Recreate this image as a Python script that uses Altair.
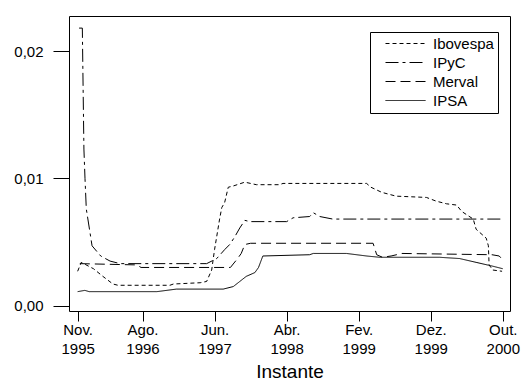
import altair as alt
import pandas as pd

# time index in months, 0 = Nov. 1995
ibov_t = [0.0, 0.5, 2.2, 3.5, 4.9, 5.6, 12.8, 13.3, 17.0, 17.9, 18.6, 19.0, 19.7, 20.0, 20.4, 20.9,
          21.6, 23.2, 24.8, 28.0, 28.5, 32.7, 40.1, 40.7, 42.2, 44.2, 48.4, 49.8, 51.2, 52.6, 53.3,
          54.9, 55.3, 56.7, 57.0, 57.1, 57.6, 58.9]
ibov_v = [0.0027, 0.0034, 0.0029, 0.0023, 0.0017, 0.0016, 0.0016, 0.0017, 0.0018, 0.0019, 0.0028,
          0.0044, 0.0068, 0.0077, 0.0081, 0.0093, 0.0094, 0.0097, 0.0095, 0.0095, 0.0096, 0.0096,
          0.0096, 0.0093, 0.0089, 0.0086, 0.0085, 0.0082, 0.0080, 0.0079, 0.0074, 0.0068, 0.0060,
          0.0053, 0.0047, 0.0032, 0.0028, 0.0027]

ipyc_t = [0.2, 0.65, 0.87, 1.02, 1.2, 2.0, 3.2, 4.5, 5.9, 17.9, 19.3, 20.4, 21.1, 21.8, 22.5, 23.2,
          23.9, 29.0, 29.9, 32.2, 32.7, 33.6, 35.4, 59.0]
ipyc_v = [0.0218, 0.0218, 0.0123, 0.0100, 0.0076, 0.0047, 0.0039, 0.0035, 0.0033, 0.0033, 0.0037,
          0.0044, 0.0048, 0.0054, 0.0061, 0.0067, 0.0066, 0.0066, 0.0069, 0.0070, 0.0073, 0.0070,
          0.0068, 0.0068]

merv_t = [0.3, 8.2, 8.8, 21.2, 22.2, 22.7, 23.2, 24.0, 41.0, 41.5, 42.3, 43.5, 45.0, 57.5, 58.5, 59.0]
merv_v = [0.0033, 0.0032, 0.0030, 0.0030, 0.0037, 0.0041, 0.0048, 0.0049, 0.0049, 0.0040, 0.0038,
          0.0039, 0.0041, 0.0040, 0.0039, 0.0036]

ipsa_t = [0.0, 1.0, 1.6, 11.0, 13.7, 20.2, 21.6, 22.5, 23.4, 24.6, 25.1, 25.7, 32.2, 32.7, 37.3,
          40.1, 41.9, 50.2, 53.0, 55.3, 57.6, 59.0]
ipsa_v = [0.0011, 0.0012, 0.0011, 0.0011, 0.0013, 0.0013, 0.0015, 0.0019, 0.0023, 0.0026, 0.0030,
          0.0039, 0.0040, 0.0041, 0.0041, 0.0039, 0.0038, 0.0038, 0.0037, 0.0034, 0.0031, 0.0029]

series_names = ["Ibovespa", "IPyC", "Merval", "IPSA"]
series_dash = [[4, 3], [13, 4, 3, 4], [10, 5], [1, 0]]

tick_pos = [0, 9, 19, 29, 39, 49, 59]
tick_month = ["Nov.", "Ago.", "Jun.", "Abr.", "Fev.", "Dez.", "Out."]
tick_year = ["1995", "1996", "1997", "1998", "1999", "1999", "2000"]

rows = []
for name, ts, vs in zip(series_names, [ibov_t, ipyc_t, merv_t, ipsa_t],
                        [ibov_v, ipyc_v, merv_v, ipsa_v]):
    for i, (t, v) in enumerate(zip(ts, vs)):
        rows.append({"serie": name, "t": t, "v": v, "ord": i})
df = pd.DataFrame(rows)

expr = "''"
for p, m, y in reversed(list(zip(tick_pos, tick_month, tick_year))):
    expr = f"datum.value == {p} ? ['{m}', '{y}'] : ({expr})"

FONT = "Liberation Sans"
NBSP = "\u00a0"

chart = alt.Chart(df).mark_line(color="black", strokeWidth=1).encode(
    x=alt.X("t:Q", scale=alt.Scale(domain=[-1.2, 60.0], nice=False, zero=False),
            axis=alt.Axis(values=tick_pos, labelExpr=expr, title="Instante", grid=False,
                          domain=False, tickSize=10, tickColor="black", labelPadding=1,
                          labelLineHeight=19, labelFontSize=15, labelFont=FONT,
                          labelColor="black", titleFontSize=19, titleFont=FONT,
                          titleFontWeight="normal", titleColor="black", titlePadding=6,
                          labelOverlap=False)),
    y=alt.Y("v:Q", scale=alt.Scale(domain=[-0.00042, 0.02275], nice=False, zero=False),
            axis=alt.Axis(values=[0, 0.01, 0.02],
                          labelExpr="replace(format(datum.value, '.2f'), '.', ',')",
                          title=None, grid=False, domain=False, tickSize=16, tickColor="black",
                          labelPadding=10, labelFontSize=15, labelFont=FONT, labelColor="black")),
    strokeDash=alt.StrokeDash("serie:N",
                              scale=alt.Scale(domain=series_names, range=series_dash),
                              sort=series_names,
                              legend=alt.Legend(title=None, orient="none", legendX=301, legendY=16,
                                                symbolType="M-4,0H4", symbolSize=100,
                                                symbolStrokeWidth=1, symbolStrokeColor="black",
                                                symbolOffset=24,
                                                labelExpr=f"datum.label + '{NBSP}{NBSP}'",
                                                labelFontSize=15, labelFont=FONT,
                                                labelColor="black", labelOffset=20,
                                                rowPadding=3, padding=4, strokeColor="black",
                                                fillColor="white")),
    order="ord:Q",
).properties(
    width=441, height=295,
    autosize=alt.AutoSizeParams(type="none"),
    padding={"left": 69, "top": 16, "right": 13, "bottom": 72},
).configure_view(stroke="black", strokeWidth=1)

chart.save("out.html", embed_options={"renderer": "svg", "actions": False})
